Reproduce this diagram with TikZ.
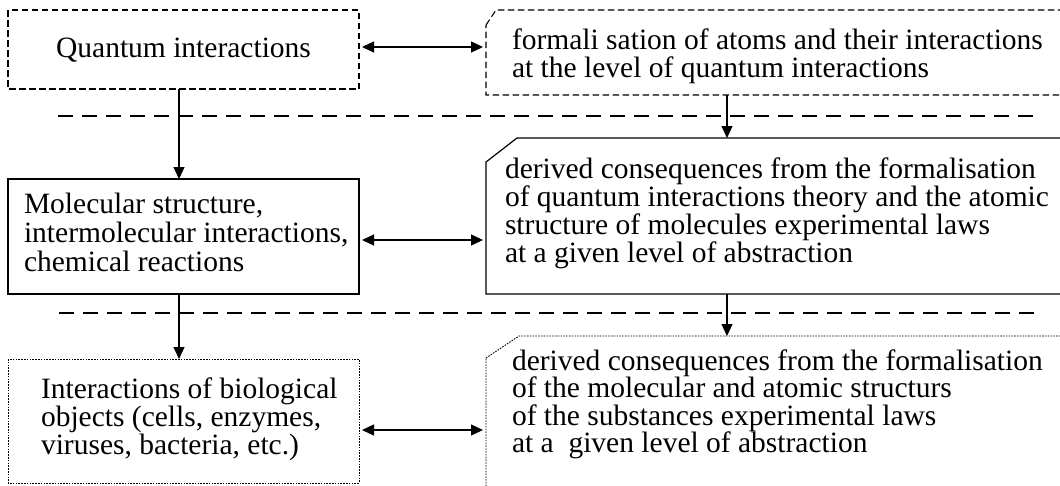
\documentclass[tikz,border=0pt]{standalone}
\usepackage{fontspec}
\setmainfont{Liberation Serif}
\usetikzlibrary{arrows.meta}
\tikzset{
  boxnode/.style={draw=none, inner sep=0pt, outer sep=0pt, anchor=north west},
  dashbox/.style={line width=1.1pt, dash pattern=on 6.5pt off 3.5pt},
  solidbox/.style={line width=1.2pt},
  dotbox/.style={line width=0.9pt, dash pattern=on 1.6pt off 1.2pt},
  sepline/.style={line width=1.2pt, dash pattern=on 15pt off 9pt},
  conn/.style={line width=1.2pt, -{Triangle[length=12pt,width=11pt]}},
  dbl/.style={line width=1.2pt, {Triangle[length=12pt,width=11pt]}-{Triangle[length=12pt,width=11pt]}, shorten <=3pt, shorten >=3pt},
  txt/.style={inner sep=0pt, outer sep=0pt, anchor=north west, align=left, font=\fontsize{29.5}{28}\selectfont},
}
\newcommand{\fl}{\rule{0pt}{21pt}}
\begin{document}
\begin{tikzpicture}[x=1pt,y=-1pt]
\useasboundingbox (0,0) rectangle (1060,485);
\clip (0,0) rectangle (1060,485);
\fill[white] (0,0) rectangle (1060,485);

% boxes
\node[boxnode, minimum width=351pt, minimum height=79pt] (b1) at (8,10) {};
\node[boxnode, minimum width=600pt, minimum height=85pt] (b2) at (486,10) {};
\node[boxnode, minimum width=351pt, minimum height=115pt] (b3) at (8,179) {};
\node[boxnode, minimum width=600pt, minimum height=156pt] (b4) at (486,138) {};
\node[boxnode, minimum width=351pt, minimum height=124pt] (b5) at (8,359) {};
\node[boxnode, minimum width=600pt, minimum height=190pt] (b6) at (486,336) {};

\draw[dashbox] (b1.north west) rectangle (b1.south east);
\draw[dashbox] ([yshift=-15pt]b2.north west) -- ([xshift=10pt]b2.north west) -- (b2.north east) -- (b2.south east) -- (b2.south west) -- cycle;
\draw[solidbox] (b3.north west) rectangle (b3.south east);
\draw[solidbox] ([yshift=-24pt]b4.north west) -- ([xshift=31pt]b4.north west) -- (b4.north east) -- (b4.south east) -- (b4.south west) -- cycle;
\draw[dotbox] (b5.north west) rectangle (b5.south east);
\draw[dotbox] ([yshift=-22pt]b6.north west) -- ([xshift=33pt]b6.north west) -- (b6.north east) -- (b6.south east) -- (b6.south west) -- cycle;

% texts
\node[inner sep=0pt, anchor=base, font=\fontsize{29.5}{28}\selectfont] (t1) at (183.5,57) {Quantum interactions};
\node[txt] (t2) at (512,28.5) {\fl formali sation of atoms and their interactions\\at the level of quantum interactions};
\node[txt, font=\fontsize{29.5}{29}\selectfont] (t3) at (24,192) {\fl Molecular structure,\\intermolecular interactions,\\chemical reactions};
\node[txt] (t4) at (505,157) {\fl derived consequences from the formalisation\\of quantum interactions theory and the atomic\\structure of molecules experimental laws\\at a given level of abstraction};
\node[txt] (t5) at (41,377) {\fl Interactions of biological\\objects (cells, enzymes,\\viruses, bacteria, etc.)};
\node[txt, font=\fontsize{29.5}{27.5}\selectfont] (t6) at (512,349) {\fl derived consequences from the formalisation\\of the molecular and atomic structurs\\of the substances experimental laws\\at a~ given level of abstraction};

% separators
\draw[sepline] (58,116) -- (1040,116);
\draw[sepline] (59,313) -- (1040,313);

% connectors
\draw[conn] ([xshift=-4.5pt]b1.south) -- ([xshift=-4.5pt]b3.north);
\draw[conn] ([xshift=-4.5pt]b3.south) -- ([xshift=-4.5pt]b5.north);
\draw[conn] ([xshift=241pt]b2.south west) -- ([xshift=241pt]b4.north west);
\draw[conn] ([xshift=241pt]b4.south west) -- ([xshift=241pt]b6.north west);
\draw[dbl] ([yshift=2.5pt]b1.east) -- ([yshift=2.5pt]b1.east -| b2.west);
\draw[dbl] ([yshift=-3.5pt]b3.east) -- ([yshift=-3.5pt]b3.east -| b4.west);
\draw[dbl] ([yshift=-9pt]b5.east) -- ([yshift=-9pt]b5.east -| b6.west);
\end{tikzpicture}
\end{document}
